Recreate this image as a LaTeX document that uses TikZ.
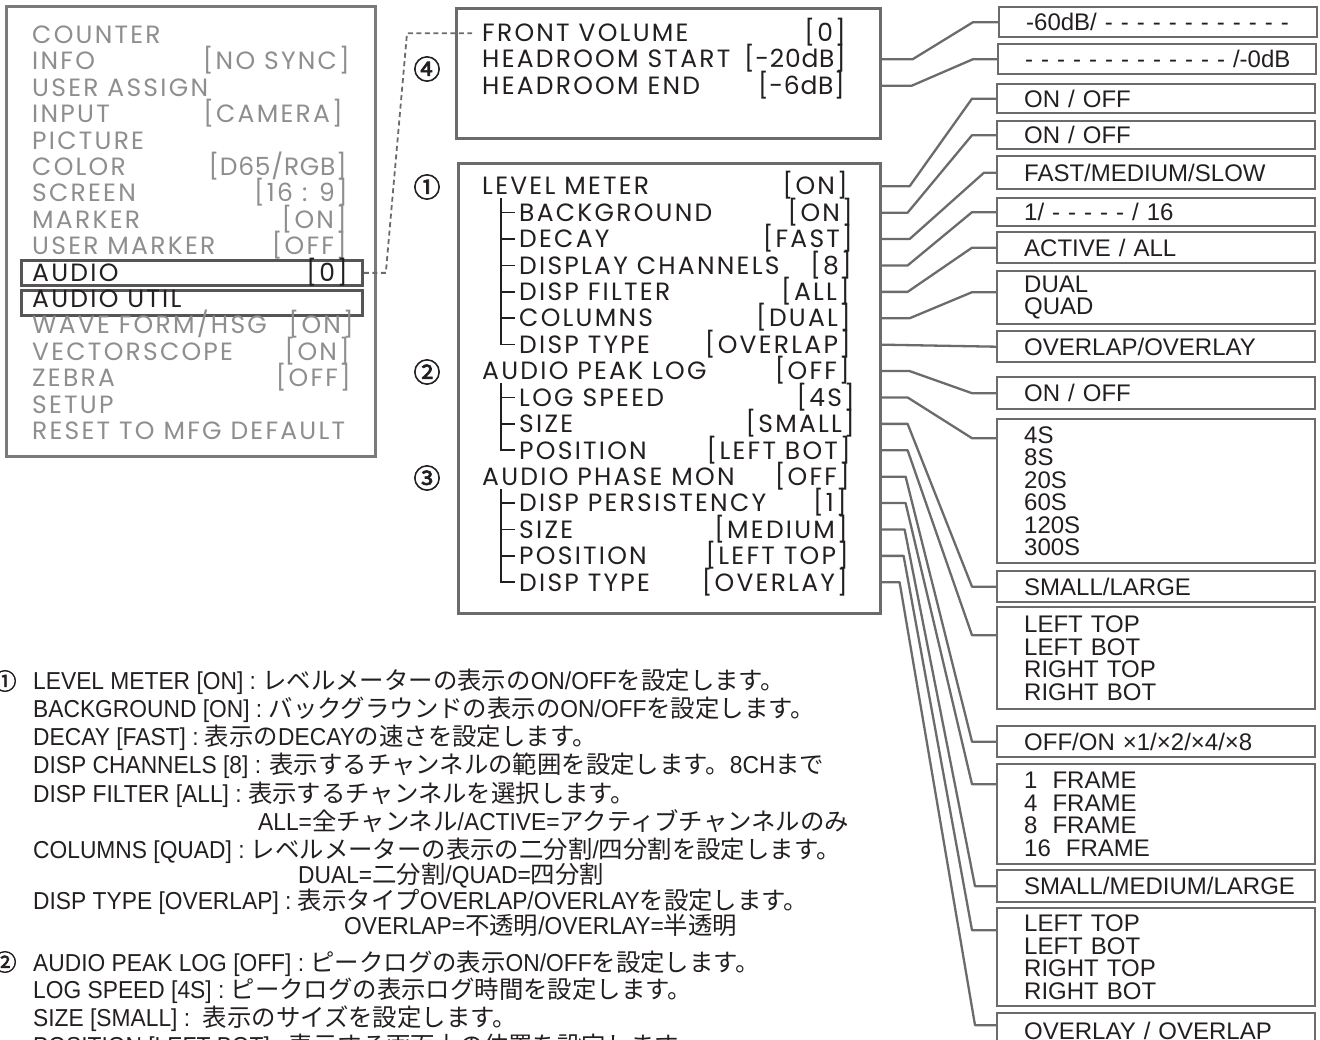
\documentclass[tikz,border=0pt]{standalone}
\usepackage{fontspec}
\setmainfont{Liberation Sans}
\newfontfamily\osd[LetterSpace=9]{Poppins}
\newfontfamily\osdn[LetterSpace=3]{Poppins}
\newfontfamily\notelat[FakeStretch=0.93]{Liberation Sans}
\newfontfamily\jp{Noto Sans CJK JP}
\newfontfamily\numjp[FakeBold=2.5]{Noto Sans CJK JP}
\usepackage{tikz}
\usetikzlibrary{positioning, calc}
\definecolor{linegray}{HTML}{6B6B6B}
\definecolor{menuline}{HTML}{7A7A7A}
\definecolor{hlgray}{HTML}{555555}
\definecolor{menugray}{HTML}{8E8E8E}
\definecolor{ink}{HTML}{231F20}
\newcommand\osdfont{\osd\fontsize{25}{26}\selectfont}
\newcommand\osdnfont{\osdn\fontsize{25}{26}\selectfont}
\newcommand\optfont{\fontsize{24}{22.5}\selectfont}
\newcommand\notefont{\notelat\fontsize{24.5}{26}\selectfont}
\newcommand\jpn{\jp\fontsize{24.4}{26}\selectfont}
\newcommand\numfont{\numjp\fontsize{27}{27}\selectfont}

\begin{document}
\begin{tikzpicture}[
  x=1pt, y=-1pt,
  panel/.style={draw=linegray, line width=2.6pt, anchor=north west, inner sep=0pt},
  hlbox/.style={draw=hlgray, line width=2.8pt, anchor=north west, inner sep=0pt, minimum width=341pt, minimum height=25pt},
  osdtxt/.style={inner sep=0pt, font=\osdfont, text=ink},
  mlbl/.style={osdtxt, text=menugray, anchor=base west},
  mval/.style={osdtxt, text=menugray, anchor=base east},
  lbl/.style={osdtxt, anchor=base west},
  val/.style={osdtxt, anchor=base east},
  nval/.style={val, font=\osdnfont},
  optbox/.style={draw=linegray, line width=2.4pt, anchor=north west, minimum width=318pt, text width=264pt, inner xsep=27pt, inner ysep=0pt, align=left, font=\optfont, text=ink},
  conn/.style={draw=linegray, line width=2.3pt, line join=round},
  tree/.style={draw=ink, line width=1.6pt},
  dashln/.style={draw=linegray, line width=1.8pt, dash pattern=on 5pt off 3.5pt},
  circnum/.style={inner sep=0pt, font=\numfont, text=ink},
  note/.style={inner sep=0pt, anchor=base west, font=\notefont, text=ink}
]
\useasboundingbox (0,0) rectangle (1320,1040);

\node[panel, draw=menuline, minimum width=369pt, minimum height=450pt] (menu) at (5,5) {};
\node[hlbox] (hlaudio) at (20,259) {};
\node[hlbox, below=2pt of hlaudio] (hlutil) {};
\node[mlbl] (mcounter) at (32,43.5) {COUNTER};
\node[mlbl] (minfo) at (32,69.9) {INFO};
\node[mval] (minfov) at (350,69.9) {[NO SYNC]};
\node[mlbl] (massign) at (32,96.3) {USER ASSIGN};
\node[mlbl] (minput) at (32,122.7) {INPUT};
\node[mval] (minputv) at (343,122.7) {[CAMERA]};
\node[mlbl] (mpicture) at (32,149.1) {PICTURE};
\node[mlbl] (mcolor) at (32,175.5) {COLOR};
\node[mval, font=\osdnfont] (mcolorv) at (347,175.5) {[D65/RGB]};
\node[mlbl] (mscreen) at (32,201.9) {SCREEN};
\node[mval] (mscreenv) at (348,201.9) {[16 : 9]};
\node[mlbl] (mmarker) at (32,228.3) {MARKER};
\node[mval] (mmarkerv) at (347,228.3) {[ON]};
\node[mlbl] (musermk) at (32,254.7) {USER MARKER};
\node[mval] (musermkv) at (347,254.7) {[OFF]};
\node[mlbl, text=ink] (maudio) at (32,281.1) {AUDIO};
\node[mval, text=ink] (maudiov) at (348,281.1) {[0]};
\node[mlbl, text=ink] (mutil) at (32,307.5) {AUDIO UTIL};
\node[mlbl] (mwave) at (32,333.9) {WAVE FORM/HSG};
\node[mval] (mwavev) at (354,333.9) {[ON]};
\node[mlbl] (mvector) at (32,360.3) {VECTORSCOPE};
\node[mval] (mvectorv) at (350,360.3) {[ON]};
\node[mlbl] (mzebra) at (32,386.7) {ZEBRA};
\node[mval] (mzebrav) at (351,386.7) {[OFF]};
\node[mlbl] (msetup) at (32,413.1) {SETUP};
\node[mlbl] (mreset) at (32,439.5) {RESET TO MFG DEFAULT};

\node[panel, minimum width=424pt, minimum height=130pt] (top) at (455,7) {};
\node[lbl] (fv) at (482,42) {FRONT VOLUME};
\node[val] (fvv) at (846,42) {[0]};
\node[lbl] (hs) at (482,68) {HEADROOM START};
\node[nval] (hsv) at (846,68) {[-20dB]};
\node[lbl] (he) at (482,94.5) {HEADROOM END};
\node[nval] (hev) at (845,94.5) {[-6dB]};

\node[panel, minimum width=422pt, minimum height=450pt] (mid) at (457,162) {};
\node[lbl] (lm) at (482,195) {LEVEL METER};
\node[val] (lmv) at (848,195) {[ON]};
\node[lbl] (bg) at (519,221.4) {BACKGROUND};
\node[val] (bgv) at (853,221.4) {[ON]};
\node[lbl] (dc) at (519,247.8) {DECAY};
\node[val] (dcv) at (853,247.8) {[FAST]};
\node[lbl] (dch) at (519,274.2) {DISPLAY CHANNELS};
\node[val] (dchv) at (852,274.2) {[8]};
\node[lbl] (df) at (519,300.6) {DISP FILTER};
\node[val] (dfv) at (850,300.6) {[ALL]};
\node[lbl] (col) at (519,327) {COLUMNS};
\node[val] (colv) at (851,327) {[DUAL]};
\node[lbl] (dt1) at (519,353.4) {DISP TYPE};
\node[val] (dt1v) at (851,353.4) {[OVERLAP]};
\node[lbl] (apl) at (482,379.8) {AUDIO PEAK LOG};
\node[val] (aplv) at (850,379.8) {[OFF]};
\node[lbl] (ls) at (519,406.2) {LOG SPEED};
\node[val] (lsv) at (855,406.2) {[4S]};
\node[lbl] (sz1) at (519,432.6) {SIZE};
\node[val] (sz1v) at (855,432.6) {[SMALL]};
\node[lbl] (pos1) at (519,459) {POSITION};
\node[val] (pos1v) at (851,459) {[LEFT BOT]};
\node[lbl] (apm) at (482,485.4) {AUDIO PHASE MON};
\node[val] (apmv) at (850,485.4) {[OFF]};
\node[lbl] (dp) at (519,511.8) {DISP PERSISTENCY};
\node[val] (dpv) at (847,511.8) {[1]};
\node[lbl] (sz2) at (519,538.2) {SIZE};
\node[val] (sz2v) at (848,538.2) {[MEDIUM]};
\node[lbl] (pos2) at (519,564.6) {POSITION};
\node[val] (pos2v) at (849,564.6) {[LEFT TOP]};
\node[lbl] (dt2) at (519,591) {DISP TYPE};
\node[val] (dt2v) at (848,591) {[OVERLAY]};

\draw[tree] ($(bg.west |- lm.south)+(-18,3)$) |- ($(dt1.west)+(-4,0)$);
\draw[tree] ($(bg.west)+(-18,0)$) -- ++(14,0) ($(dc.west)+(-18,0)$) -- ++(14,0) ($(dch.west)+(-18,0)$) -- ++(14,0) ($(df.west)+(-18,0)$) -- ++(14,0) ($(col.west)+(-18,0)$) -- ++(14,0);
\draw[tree] ($(ls.west |- apl.south)+(-18,3)$) |- ($(pos1.west)+(-4,0)$);
\draw[tree] ($(ls.west)+(-18,0)$) -- ++(14,0) ($(sz1.west)+(-18,0)$) -- ++(14,0);
\draw[tree] ($(dp.west |- apm.south)+(-18,3)$) |- ($(dt2.west)+(-4,0)$);
\draw[tree] ($(dp.west)+(-18,0)$) -- ++(14,0) ($(sz2.west)+(-18,0)$) -- ++(14,0) ($(pos2.west)+(-18,0)$) -- ++(14,0);

\node[circnum] (c4) at (427,69) {④};
\node[circnum] (c1) at (427,187) {①};
\node[circnum] (c2) at (427,372) {②};
\node[circnum] (c3) at (427,478) {③};

\node[optbox, minimum height=30pt] (o1) at (998,6) {\mbox{-60dB/ - - - - - - - - - - - -}};
\node[optbox, minimum height=30pt] (o2) at (997,43) {\mbox{- - - - - - - - - - - - - /-0dB}};
\node[optbox, minimum height=29pt] (o3) at (996,83) {ON / OFF};
\node[optbox, minimum height=28pt] (o4) at (996,120) {ON / OFF};
\node[optbox, minimum height=33pt] (o5) at (996,155) {FAST/MEDIUM/SLOW};
\node[optbox, minimum height=28pt] (o6) at (996,197) {\mbox{1/ - - - - - / 16}};
\node[optbox, minimum height=31pt] (o7) at (996,231) {ACTIVE / ALL};
\node[optbox, minimum height=53pt] (o8) at (996,270) {DUAL\\QUAD};
\node[optbox, minimum height=31pt] (o9) at (996,330) {OVERLAP/OVERLAY};
\node[optbox, minimum height=32pt] (o10) at (996,376) {ON / OFF};
\node[optbox, minimum height=144pt] (o11) at (996,418) {4S\\8S\\20S\\60S\\120S\\300S};
\node[optbox, minimum height=31pt] (o12) at (996,570) {SMALL/LARGE};
\node[optbox, minimum height=102pt] (o13) at (996,606) {LEFT TOP\\LEFT BOT\\RIGHT TOP\\RIGHT BOT};
\node[optbox, minimum height=31pt] (o14) at (996,725) {OFF/ON ×1/×2/×4/×8};
\node[optbox, minimum height=100pt] (o15) at (996,763) {1\hspace{15pt}FRAME\\4\hspace{15pt}FRAME\\8\hspace{15pt}FRAME\\16\hspace{15pt}FRAME};
\node[optbox, minimum height=32pt] (o16) at (996,869) {SMALL/MEDIUM/LARGE};
\node[optbox, minimum height=98pt] (o17) at (996,907) {LEFT TOP\\LEFT BOT\\RIGHT TOP\\RIGHT BOT};
\node[optbox, minimum height=36pt] (o18) at (996,1012) {OVERLAY / OVERLAP};

\draw[dashln] (hlaudio.east) -- ++(22,0) -- ($(fv.west)+(-75,0)$) -- ($(fv.west)+(-10,0)$);

\draw[conn] (top.east |- hs.west) -- ++(31,0) -- ([xshift=-25pt]o1.west) -- (o1.west);
\draw[conn] (top.east |- he.west) -- ++(30,0) -- ([xshift=-24pt]o2.west) -- (o2.west);
\draw[conn] (mid.east |- lm.west) -- ++(28,0) -- ([xshift=-24pt]o3.west) -- (o3.west);
\draw[conn] (mid.east |- bg.west) -- ++(26,0) -- ([xshift=-24pt]o4.west) -- (o4.west);
\draw[conn] (mid.east |- dc.west) -- ++(28,0) -- ([xshift=-12pt]o5.west) -- (o5.west);
\draw[conn] (mid.east |- dch.west) -- ++(26,0) -- ([xshift=-24pt]o6.west) -- (o6.west);
\draw[conn] (mid.east |- df.west) -- ++(26,0) -- ([xshift=-24pt]o7.west) -- (o7.west);
\draw[conn] (mid.east |- col.west) -- ++(28,0) -- ([xshift=-24pt,yshift=5.5pt]o8.west) -- ([yshift=5.5pt]o8.west);
\draw[conn] (mid.east |- dt1.west) -- (o9.west);
\draw[conn] (mid.east |- apl.west) -- ++(28,0) -- ([xshift=-24pt]o10.west) -- (o10.west);
\draw[conn] (mid.east |- ls.west) -- ++(26,0) -- ([xshift=-24pt,yshift=53pt]o11.west) -- ([yshift=53pt]o11.west);
\draw[conn] (mid.east |- sz1.west) -- ++(26,0) -- ([xshift=-24pt]o12.west) -- (o12.west);
\draw[conn] (mid.east |- pos1.west) -- ++(26,0) -- ([xshift=-24pt,yshift=23pt]o13.west) -- ([yshift=23pt]o13.west);
\draw[conn] (mid.east |- apm.west) -- ++(24,0) -- ([xshift=-24pt]o14.west) -- (o14.west);
\draw[conn] (mid.east |- dp.west) -- ++(24,0) -- ([xshift=-24pt,yshift=30pt]o15.west) -- ([yshift=30pt]o15.west);
\draw[conn] (mid.east |- sz2.west) -- ++(23,0) -- ([xshift=-21pt]o16.west) -- (o16.west);
\draw[conn] (mid.east |- pos2.west) -- ++(22,0) -- ([xshift=-24pt,yshift=27pt]o17.west) -- ([yshift=27pt]o17.west);
\draw[conn] (mid.east |- dt2.west) -- ++(18,0) -- ([xshift=-21pt,yshift=6pt]o18.west) -- ([yshift=6pt]o18.west);

\node[circnum, font=\numjp\fontsize{23}{23}\selectfont] (nc1) at (5,681) {①};
\node[note] (n1) at (33,689) {LEVEL METER [ON] : {\jpn レベルメーターの表示の}ON/OFF{\jpn を設定します。}};
\node[note] (n2) at (33,717) {BACKGROUND [ON] : {\jpn バックグラウンドの表示の}ON/OFF{\jpn を設定します。}};
\node[note] (n3) at (33,745) {DECAY [FAST] : {\jpn 表示の}DECAY{\jpn の速さを設定します。}};
\node[note] (n4) at (33,773) {DISP CHANNELS [8] : {\jpn 表示するチャンネルの範囲を設定します。}8CH{\jpn まで}};
\node[note] (n5) at (33,802) {DISP FILTER [ALL] : {\jpn 表示するチャンネルを選択します。}};
\node[note] (n6) at (258,830) {ALL={\jpn 全チャンネル}/ACTIVE={\jpn アクティブチャンネルのみ}};
\node[note] (n7) at (33,858) {COLUMNS [QUAD] : {\jpn レベルメーターの表示の二分割}/{\jpn 四分割を設定します。}};
\node[note] (n8) at (298,883) {DUAL={\jpn 二分割}/QUAD={\jpn 四分割}};
\node[note] (n9) at (33,909) {DISP TYPE [OVERLAP] : {\jpn 表示タイプ}OVERLAP/OVERLAY{\jpn を設定します。}};
\node[note] (n10) at (344,934) {OVERLAP={\jpn 不透明}/OVERLAY={\jpn 半透明}};
\node[circnum, font=\numjp\fontsize{23}{23}\selectfont] (nc2) at (5,962) {②};
\node[note] (n11) at (33,971) {AUDIO PEAK LOG [OFF] : {\jpn ピークログの表示}ON/OFF{\jpn を設定します。}};
\node[note] (n12) at (33,998) {LOG SPEED [4S] : {\jpn ピークログの表示ログ時間を設定します。}};
\node[note] (n13) at (33,1026) {SIZE [SMALL] : \ {\jpn 表示のサイズを設定します。}};
\node[note] (n14) at (33,1054) {POSITION [LEFT BOT] : {\jpn 表示する画面上の位置を設定します。}};
\end{tikzpicture}
\end{document}
